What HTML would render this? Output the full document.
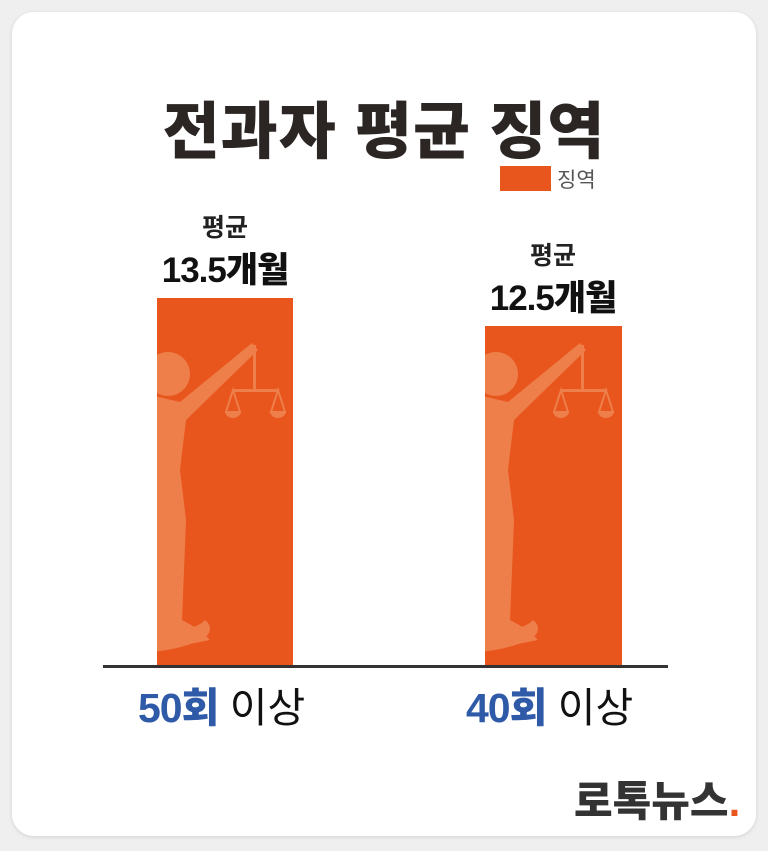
<!DOCTYPE html>
<html><head><meta charset="utf-8"><style>
html,body{margin:0;padding:0;}
body{width:768px;height:851px;background:#efefef;position:relative;overflow:hidden;font-family:"Liberation Sans","Noto Sans CJK KR",sans-serif;}
.card{position:absolute;left:12px;top:12px;width:744px;height:824px;background:#fff;border-radius:22px;box-shadow:0 1px 4px rgba(0,0,0,0.12);}
.t{position:absolute;white-space:nowrap;}
</style></head><body>
<div class="card"></div>
<div class="t" style="left:0;width:768px;text-align:center;top:81px;font-size:62px;font-weight:900;color:#2b2523;letter-spacing:1px;">전과자 평균 징역</div>
<div style="position:absolute;left:500px;top:166px;width:51px;height:25px;background:#e8561e;"></div>
<div class="t" style="left:557px;top:164px;font-size:21px;color:#555;">징역</div>
<div class="t" style="left:125px;width:200px;text-align:center;top:208px;font-size:25px;color:#222;font-weight:bold;">평균</div>
<div class="t" style="left:125px;width:200px;text-align:center;top:242px;font-size:35px;color:#111;font-weight:900;letter-spacing:-1px;">13.5개월</div>
<div class="t" style="left:453px;width:200px;text-align:center;top:236px;font-size:25px;color:#222;font-weight:bold;">평균</div>
<div class="t" style="left:453px;width:200px;text-align:center;top:270px;font-size:35px;color:#111;font-weight:900;letter-spacing:-1px;">12.5개월</div>
<svg width="768" height="851" style="position:absolute;left:0;top:0">
<defs>
<clipPath id="c1"><rect x="157" y="298" width="136" height="368"/></clipPath>
<clipPath id="c2"><rect x="485" y="326" width="137" height="340"/></clipPath>
<g id="fig" fill="#ee7f4a">
<circle cx="168" cy="374" r="22"/>
<path d="M150 395 L180 402 L252 343 L258 350 L186 420 L180 470 L186 520 L182 620 L200 630 L210 640 L170 648 L150 648 Z"/>
<rect x="253" y="345" width="3" height="46"/>
<rect x="232" y="389" width="47" height="3"/>
<path d="M233 390 L226 412 L240 412 Z M278 390 L271 412 L285 412 Z" fill="none" stroke="#ee7f4a" stroke-width="2"/>
<path d="M225 411 h16 a8 7 0 0 1 -16 0 Z M270 411 h16 a8 7 0 0 1 -16 0 Z"/>
<path d="M150 632 Q195 632 205 620 Q215 628 205 638 Q180 650 150 652 Z"/>
</g>
</defs>
<rect x="157" y="298" width="136" height="368" fill="#e8561e"/>
<rect x="485" y="326" width="137" height="340" fill="#e8561e"/>
<g clip-path="url(#c1)"><use href="#fig"/></g>
<g clip-path="url(#c2)"><use href="#fig" transform="translate(328,0)"/></g>
<rect x="103" y="665" width="565" height="3" fill="#333"/>
</svg>
<div class="t" style="left:138px;top:674px;font-size:41px;"><span style="color:#2e5aa8;font-weight:900;letter-spacing:-1px;">50회</span> <span style="color:#111;">이상</span></div>
<div class="t" style="left:466px;top:674px;font-size:41px;"><span style="color:#2e5aa8;font-weight:900;letter-spacing:-1px;">40회</span> <span style="color:#111;">이상</span></div>
<div class="t" style="left:574px;top:768px;font-size:42px;font-weight:900;color:#333;letter-spacing:0px;">로톡뉴스<span style="color:#e8561e;">.</span></div>
</body></html>
